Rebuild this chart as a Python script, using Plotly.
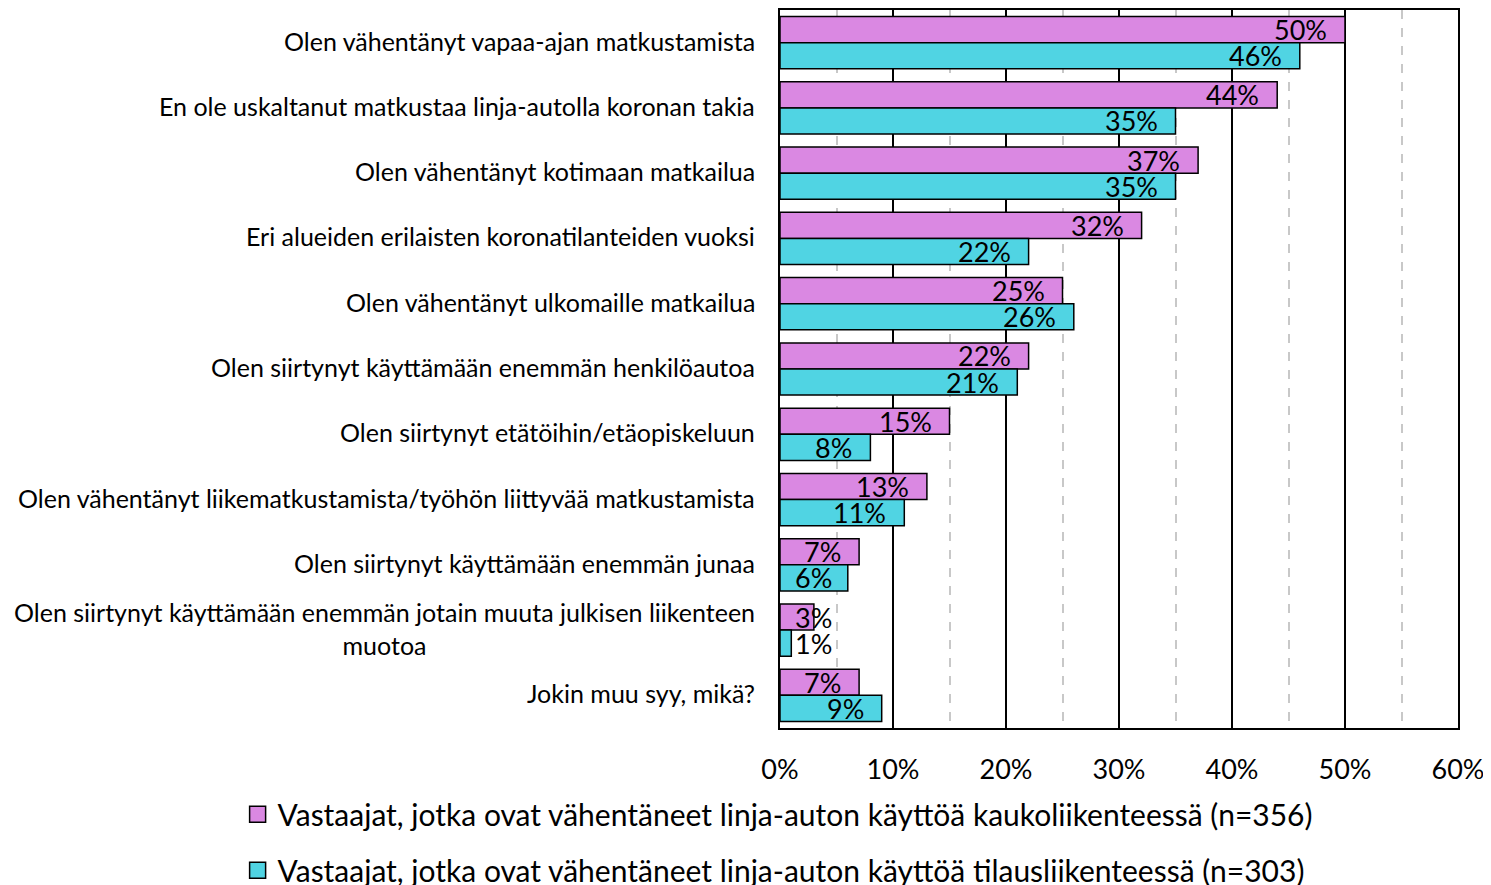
import plotly.graph_objects as go

categories = [
    "Olen vähentänyt vapaa-ajan matkustamista",
    "En ole uskaltanut matkustaa linja-autolla koronan takia",
    "Olen vähentänyt kotimaan matkailua",
    "Eri alueiden erilaisten koronatilanteiden vuoksi",
    "Olen vähentänyt ulkomaille matkailua",
    "Olen siirtynyt käyttämään enemmän henkilöautoa",
    "Olen siirtynyt etätöihin/etäopiskeluun",
    "Olen vähentänyt liikematkustamista/työhön liittyvää matkustamista",
    "Olen siirtynyt käyttämään enemmän junaa",
    "Olen siirtynyt käyttämään enemmän jotain muuta julkisen liikenteen<br>muotoa",
    "Jokin muu syy, mikä?",
]
kauko = [50, 44, 37, 32, 25, 22, 15, 13, 7, 3, 7]
tilaus = [46, 35, 35, 22, 26, 21, 8, 11, 6, 1, 9]
series_names = [
    "Vastaajat, jotka ovat vähentäneet linja-auton käyttöä kaukoliikenteessä (n=356)",
    "Vastaajat, jotka ovat vähentäneet linja-auton käyttöä tilausliikenteessä (n=303)",
]
x_ticks = [0, 10, 20, 30, 40, 50, 60]

FONT = "Lato"
PINK = "#DA88E2"
CYAN = "#50D4E3"

ypos = list(range(len(categories)))

fig = go.Figure()
for vals, name, color, grp in ((kauko, series_names[0], PINK, "a"),
                               (tilaus, series_names[1], CYAN, "b")):
    fig.add_trace(go.Bar(y=ypos, x=vals, orientation="h", name=name,
                         legendgroup=grp, showlegend=False,
                         marker=dict(color=color, line=dict(color="black", width=1.5))))
for name, color, grp in ((series_names[0], PINK, "a"), (series_names[1], CYAN, "b")):
    fig.add_trace(go.Scatter(x=[None], y=[None], mode="markers", name=name,
                             legendgroup=grp, showlegend=True,
                             marker=dict(symbol="square", size=17, color=color,
                                         line=dict(color="black", width=1.5))))

annotations = []
# value labels
MIN_LABEL_X = 6.2
for i, (a, b) in enumerate(zip(kauko, tilaus)):
    for v, off in ((a, -0.2), (b, 0.2)):
        annotations.append(dict(x=max(v, MIN_LABEL_X), y=i + off, xref="x", yref="y",
                                text=f"{v}%", showarrow=False, xanchor="right",
                                xshift=-16, yshift=0,
                                font=dict(family=FONT, size=27, color="black")))
# category labels
for i, c in enumerate(categories):
    annotations.append(dict(x=0, y=i, xref="paper", yref="y", text=c, showarrow=False,
                            xanchor="right", align="center", xshift=-23, yshift=2,
                            font=dict(family=FONT, size=25, color="black")))

fig.update_layout(
    width=1491, height=885,
    margin=dict(l=772, r=41, t=2, b=165, autoexpand=False),
    plot_bgcolor="white", paper_bgcolor="white",
    barmode="group", bargap=0.2, bargroupgap=0,
    font=dict(family=FONT, color="black"),
    annotations=annotations,
    showlegend=True,
    legend=dict(orientation="v", xref="container", yref="container",
                x=0.154, y=0.1185, xanchor="left", yanchor="top",
                font=dict(family=FONT, size=30), tracegroupgap=14,
                itemwidth=30, bgcolor="rgba(0,0,0,0)"),
)
fig.update_yaxes(autorange=False, range=[len(categories) - 0.5, -0.5],
                 showticklabels=False, showgrid=False,
                 showline=True, linecolor="black", linewidth=2, mirror=True, ticks="")
fig.update_xaxes(range=[0, 60], tickvals=x_ticks, ticktext=[f"{t}%" for t in x_ticks],
                 showgrid=True, gridcolor="black", gridwidth=1.5,
                 showline=True, linecolor="black", linewidth=2, mirror=True,
                 ticks="", ticklabelstandoff=17, zeroline=False, tickangle=0,
                 tickfont=dict(family=FONT, size=27),
                 minor=dict(dtick=5, tick0=0, showgrid=True, gridcolor="#c8c8c8",
                            griddash="dash", gridwidth=1.5))

fig.write_html("out.html")
